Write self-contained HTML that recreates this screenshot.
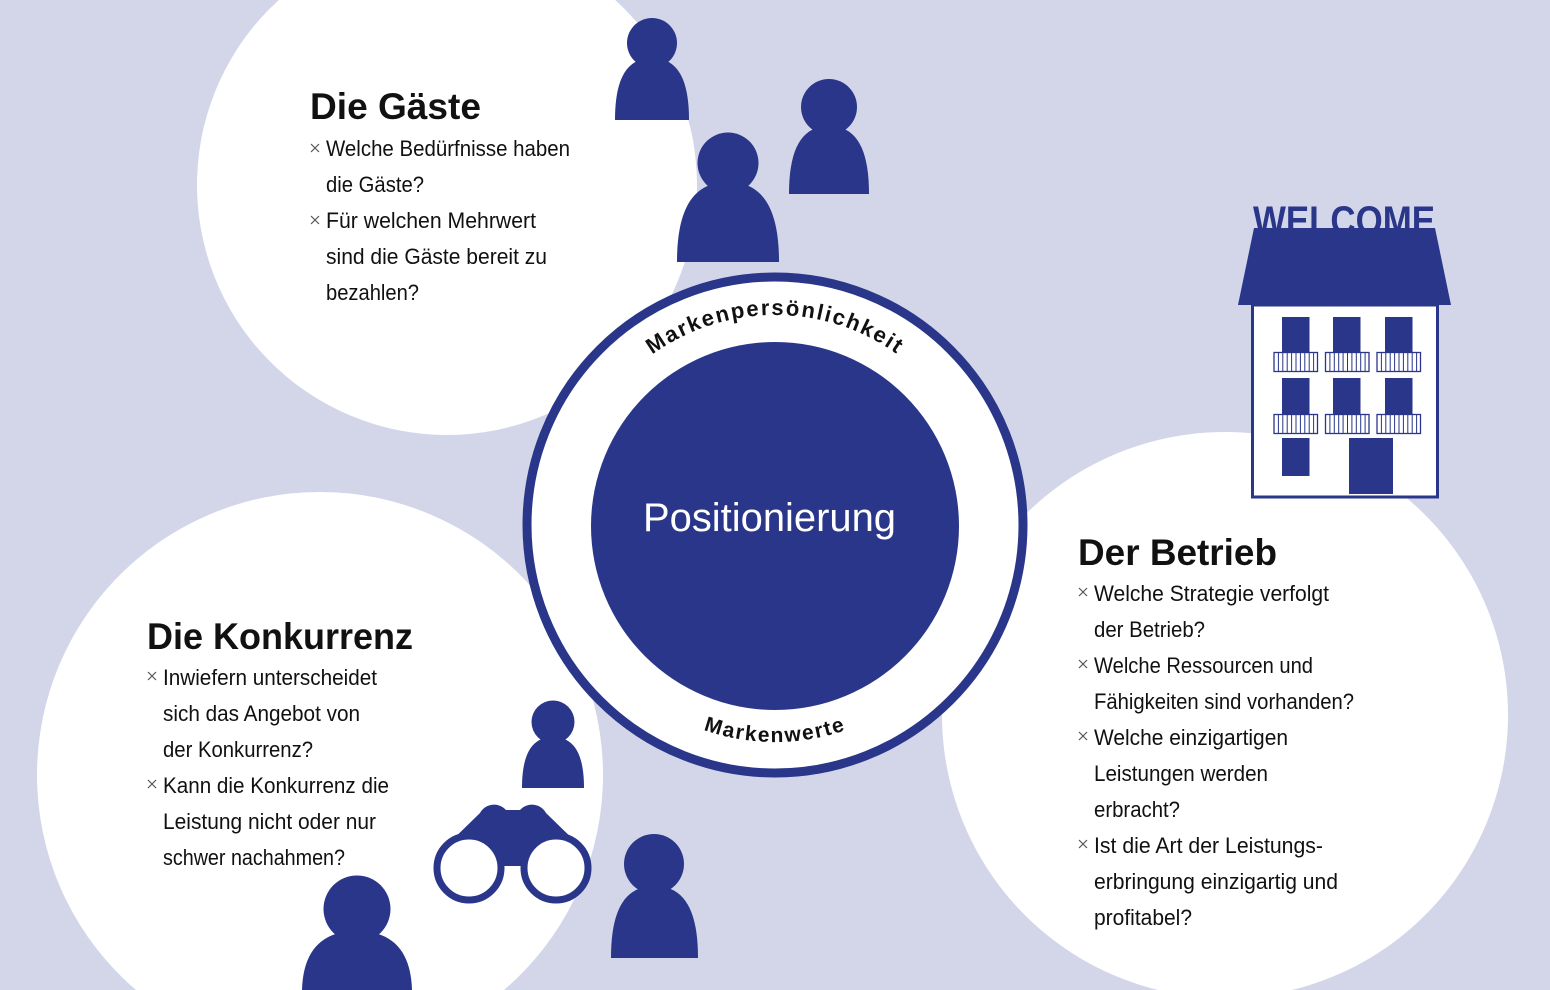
<!DOCTYPE html>
<html><head><meta charset="utf-8"><style>
html,body{margin:0;padding:0;background:#d3d6e9;width:1550px;height:990px;overflow:hidden;}
svg{display:block;}
text{font-family:"Liberation Sans",sans-serif;}
</style></head><body>
<svg width="1550" height="990" viewBox="0 0 1550 990" xmlns="http://www.w3.org/2000/svg" overflow="hidden">
<defs>
<path id="arcTop" d="M565,525 A210,210 0 0 1 985,525"/>
<path id="arcBot" d="M558,525 A217,217 0 0 0 992,525"/>
</defs>
<rect x="0" y="0" width="1550" height="990" fill="#d3d6e9"/>
<!-- big white circles (truncated at frame edges) -->
<path d="M615.2,0 A250,250 0 1 1 278.8,0 Z" fill="#fff"/>
<path d="M136,990 A283,283 0 1 1 504,990 Z" fill="#fff"/>
<path d="M1158.2,990 A283,283 0 1 1 1291.8,990 Z" fill="#fff"/>
<!-- center -->
<circle cx="775" cy="525" r="248" fill="#fff" stroke="#29368a" stroke-width="9"/>
<circle cx="775" cy="526" r="184" fill="#29368a"/>
<text x="643" y="531" font-size="40" fill="#fff" textLength="253" lengthAdjust="spacingAndGlyphs">Positionierung</text>
<text font-size="22" font-weight="bold" fill="#111" letter-spacing="1.8"><textPath href="#arcTop" startOffset="50%" text-anchor="middle">Markenpersönlichkeit</textPath></text>
<text font-size="21" font-weight="bold" fill="#111" letter-spacing="1.6"><textPath href="#arcBot" startOffset="50%" text-anchor="middle">Markenwerte</textPath></text>

<!-- Die Gäste -->
<g fill="#111">
<text x="310" y="119" font-size="37" font-weight="bold" textLength="171" lengthAdjust="spacingAndGlyphs">Die Gäste</text>
<g font-size="22">
<text x="326" y="156" textLength="244" lengthAdjust="spacingAndGlyphs">Welche Bedürfnisse haben</text>
<text x="326" y="192" textLength="98" lengthAdjust="spacingAndGlyphs">die Gäste?</text>
<text x="326" y="228" textLength="210" lengthAdjust="spacingAndGlyphs">Für welchen Mehrwert</text>
<text x="326" y="264" textLength="221" lengthAdjust="spacingAndGlyphs">sind die Gäste bereit zu</text>
<text x="326" y="300" textLength="93" lengthAdjust="spacingAndGlyphs">bezahlen?</text>
</g>
</g>
<g stroke="#555" stroke-width="1.2">
<path d="M311,144 L319,152 M319,144 L311,152"/>
<path d="M311,216 L319,224 M319,216 L311,224"/>
</g>

<!-- Die Konkurrenz -->
<g fill="#111">
<text x="147" y="649" font-size="37" font-weight="bold" textLength="266" lengthAdjust="spacingAndGlyphs">Die Konkurrenz</text>
<g font-size="22">
<text x="163" y="685" textLength="214" lengthAdjust="spacingAndGlyphs">Inwiefern unterscheidet</text>
<text x="163" y="721" textLength="197" lengthAdjust="spacingAndGlyphs">sich das Angebot von</text>
<text x="163" y="757" textLength="150" lengthAdjust="spacingAndGlyphs">der Konkurrenz?</text>
<text x="163" y="793" textLength="226" lengthAdjust="spacingAndGlyphs">Kann die Konkurrenz die</text>
<text x="163" y="829" textLength="213" lengthAdjust="spacingAndGlyphs">Leistung nicht oder nur</text>
<text x="163" y="865" textLength="182" lengthAdjust="spacingAndGlyphs">schwer nachahmen?</text>
</g>
</g>
<g stroke="#555" stroke-width="1.2">
<path d="M148,672 L156,680 M156,672 L148,680"/>
<path d="M148,780 L156,788 M156,780 L148,788"/>
</g>

<!-- Der Betrieb -->
<g fill="#111">
<text x="1078" y="565" font-size="37" font-weight="bold" textLength="199" lengthAdjust="spacingAndGlyphs">Der Betrieb</text>
<g font-size="22">
<text x="1094" y="601" textLength="235" lengthAdjust="spacingAndGlyphs">Welche Strategie verfolgt</text>
<text x="1094" y="637" textLength="111" lengthAdjust="spacingAndGlyphs">der Betrieb?</text>
<text x="1094" y="673" textLength="219" lengthAdjust="spacingAndGlyphs">Welche Ressourcen und</text>
<text x="1094" y="709" textLength="260" lengthAdjust="spacingAndGlyphs">Fähigkeiten sind vorhanden?</text>
<text x="1094" y="745" textLength="194" lengthAdjust="spacingAndGlyphs">Welche einzigartigen</text>
<text x="1094" y="781" textLength="174" lengthAdjust="spacingAndGlyphs">Leistungen werden</text>
<text x="1094" y="817" textLength="86" lengthAdjust="spacingAndGlyphs">erbracht?</text>
<text x="1094" y="853" textLength="229" lengthAdjust="spacingAndGlyphs">Ist die Art der Leistungs-</text>
<text x="1094" y="889" textLength="244" lengthAdjust="spacingAndGlyphs">erbringung einzigartig und</text>
<text x="1094" y="925" textLength="98" lengthAdjust="spacingAndGlyphs">profitabel?</text>
</g>
</g>
<g stroke="#555" stroke-width="1.2">
<path d="M1079,588 L1087,596 M1087,588 L1079,596"/>
<path d="M1079,660 L1087,668 M1087,660 L1079,668"/>
<path d="M1079,732 L1087,740 M1087,732 L1079,740"/>
<path d="M1079,840 L1087,848 M1087,840 L1079,848"/>
</g>

<!-- people -->
<g fill="#29368a">
<circle cx="652" cy="43" r="25"/>
<path d="M615,120 C615,79.7 626.1,58 652,58 C677.9,58 689,79.7 689,120Z"/>
<circle cx="728" cy="163" r="30.5"/>
<path d="M677,262 C677,210 692.3,182 728,182 C763.7,182 779,210 779,262Z"/>
<circle cx="829" cy="107" r="28"/>
<path d="M789,194 C789,149.8 801,126 829,126 C857,126 869,149.8 869,194Z"/>
<circle cx="553" cy="722" r="21.5"/>
<path d="M522,788 C522,754.9 531.3,737 553,737 C574.7,737 584,754.9 584,788Z"/>
<circle cx="654" cy="864" r="30"/>
<path d="M611,958 C611,911.2 624,886 654.5,886 C685,886 698,911.2 698,958Z"/>
<circle cx="357" cy="909" r="33.5"/>
<path d="M302,990 C303,955 318,931 357,931 C396,931 411,955 412,990Z"/>
<!-- binoculars -->
<path d="M442,850 L480,813 A16,16 0 0 1 506,810 L520,810 A16,16 0 0 1 546,813 L584,850 L556,866 L503,866 L469,866 Z"/>
</g>
<circle cx="469" cy="868" r="32" fill="#fff" stroke="#29368a" stroke-width="7"/>
<circle cx="556" cy="868" r="32" fill="#fff" stroke="#29368a" stroke-width="7"/>

<!-- house -->
<text x="1253" y="234" font-size="40" font-weight="bold" fill="#29368a" textLength="182" lengthAdjust="spacingAndGlyphs">WELCOME</text>
<polygon points="1254,228 1435,228 1451,305 1238,305" fill="#29368a"/>
<rect x="1252.5" y="305" width="185" height="192" fill="#fff" stroke="#29368a" stroke-width="3"/>
<g fill="#29368a">
<rect x="1282" y="317" width="27.5" height="36"/>
<rect x="1333" y="317" width="27.5" height="36"/>
<rect x="1385" y="317" width="27.5" height="36"/>
<rect x="1282" y="378" width="27.5" height="37"/>
<rect x="1333" y="378" width="27.5" height="37"/>
<rect x="1385" y="378" width="27.5" height="37"/>
<rect x="1282" y="438" width="27.5" height="38"/>
<rect x="1349" y="438" width="44" height="56"/>
</g>
<g fill="#fff" stroke="#29368a" stroke-width="1.3">
<rect x="1274" y="352.5" width="43.5" height="19"/>
<rect x="1325.5" y="352.5" width="43.5" height="19"/>
<rect x="1377" y="352.5" width="43.5" height="19"/>
<rect x="1274" y="414.5" width="43.5" height="19"/>
<rect x="1325.5" y="414.5" width="43.5" height="19"/>
<rect x="1377" y="414.5" width="43.5" height="19"/>
</g>
<g stroke="#29368a" stroke-width="1">
<path d="M1278.4,352.5v19 M1282.8,352.5v19 M1287.2,352.5v19 M1291.6,352.5v19 M1296,352.5v19 M1300.4,352.5v19 M1304.8,352.5v19 M1309.2,352.5v19 M1313.6,352.5v19"/>
<path d="M1329.9,352.5v19 M1334.3,352.5v19 M1338.7,352.5v19 M1343.1,352.5v19 M1347.5,352.5v19 M1351.9,352.5v19 M1356.3,352.5v19 M1360.7,352.5v19 M1365.1,352.5v19"/>
<path d="M1381.4,352.5v19 M1385.8,352.5v19 M1390.2,352.5v19 M1394.6,352.5v19 M1399,352.5v19 M1403.4,352.5v19 M1407.8,352.5v19 M1412.2,352.5v19 M1416.6,352.5v19"/>
<path d="M1278.4,414.5v19 M1282.8,414.5v19 M1287.2,414.5v19 M1291.6,414.5v19 M1296,414.5v19 M1300.4,414.5v19 M1304.8,414.5v19 M1309.2,414.5v19 M1313.6,414.5v19"/>
<path d="M1329.9,414.5v19 M1334.3,414.5v19 M1338.7,414.5v19 M1343.1,414.5v19 M1347.5,414.5v19 M1351.9,414.5v19 M1356.3,414.5v19 M1360.7,414.5v19 M1365.1,414.5v19"/>
<path d="M1381.4,414.5v19 M1385.8,414.5v19 M1390.2,414.5v19 M1394.6,414.5v19 M1399,414.5v19 M1403.4,414.5v19 M1407.8,414.5v19 M1412.2,414.5v19 M1416.6,414.5v19"/>
</g>
</svg>
</body></html>
